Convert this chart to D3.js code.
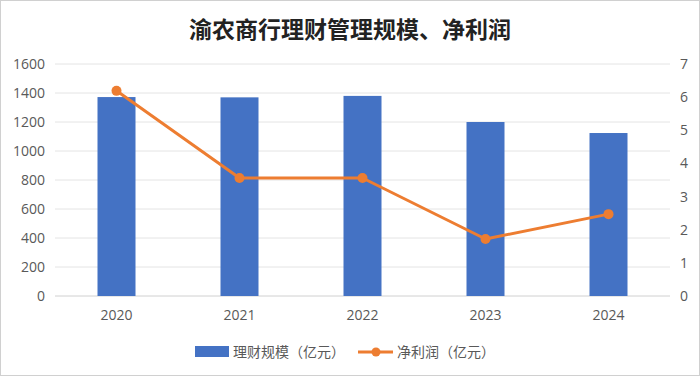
<!DOCTYPE html>
<html>
<head>
<meta charset="utf-8">
<script src="https://cdn.jsdelivr.net/npm/d3@7"></script>
<style>
  body { margin: 0; background: #fff; }
  svg { display: block; }
</style>
</head>
<body>
<div id="chart"></div>
<script>
// data
const years = ["2020", "2021", "2022", "2023", "2024"];
const scale = [1372, 1370, 1380, 1200, 1124];      // 理财规模（亿元）
const profit = [6.19, 3.56, 3.56, 1.72, 2.47];      // 净利润（亿元）
const leftTicks = [0, 200, 400, 600, 800, 1000, 1200, 1400, 1600];
const rightTicks = [0, 1, 2, 3, 4, 5, 6, 7];

const width = 700, height = 376;
const svg = d3.select("#chart")
    .append("svg")
    .attr("width", width)
    .attr("height", height);

// light frame
svg.append("rect")
    .attr("x", 0.5).attr("y", 0.5)
    .attr("width", width - 1).attr("height", height - 1)
    .style("fill", "#fff")
    .style("stroke", "#d0d0d0");

const plotL = 55, plotR = 670, plotT = 64, plotB = 296;

const x = d3.scaleBand().domain(years).range([plotL, plotR]);
const yL = d3.scaleLinear().domain([0, 1600]).range([plotB, plotT]);
const yR = d3.scaleLinear().domain([0, 7]).range([plotB, plotT]);

// title
svg.append("text")
    .text("渝农商行理财管理规模、净利润")
    .attr("x", 350).attr("y", 38)
    .attr("text-anchor", "middle")
    .style("font-family", "'Noto Sans CJK SC'")
    .style("font-weight", "bold")
    .style("font-size", "23px")
    .style("fill", "#222");

// gridlines
svg.append("g").selectAll("line")
    .data(leftTicks)
    .enter()
    .append("line")
    .attr("x1", plotL).attr("x2", plotR)
    .attr("y1", (d) => yL(d)).attr("y2", (d) => yL(d))
    .style("stroke", (d) => d === 0 ? "#d0d0d0" : "#e4e4e4")
    .style("stroke-width", 1);

// left axis
const axL = svg.append("g")
    .attr("transform", "translate(" + (plotL - 10) + ",0)")
    .call(d3.axisLeft(yL).tickValues(leftTicks).tickFormat(d3.format("d")).tickSize(0).tickPadding(0));
axL.select(".domain").remove();

// right axis
const axR = svg.append("g")
    .attr("transform", "translate(" + (plotR + 10) + ",0)")
    .call(d3.axisRight(yR).tickValues(rightTicks).tickFormat(d3.format("d")).tickSize(0).tickPadding(0));
axR.select(".domain").remove();

// x axis
const axX = svg.append("g")
    .attr("transform", "translate(0," + plotB + ")")
    .call(d3.axisBottom(x).tickSize(0).tickPadding(14));
axX.select(".domain").remove();

svg.selectAll(".tick text")
    .style("font-family", "'Open Sans', 'Noto Sans', sans-serif")
    .style("font-size", "14px")
    .style("fill", "#595959");

// bars
const barW = 38;
svg.append("g").selectAll("rect")
    .data(scale)
    .enter()
    .append("rect")
    .attr("x", (d, i) => x(years[i]) + x.bandwidth() / 2 - barW / 2)
    .attr("y", (d) => yL(d))
    .attr("width", barW)
    .attr("height", (d) => plotB - yL(d))
    .style("fill", "#4472C4");

// profit line
const line = d3.line()
    .x((d, i) => x(years[i]) + x.bandwidth() / 2)
    .y((d) => yR(d));
svg.append("path")
    .datum(profit)
    .attr("d", line)
    .style("fill", "none")
    .style("stroke", "#ED7D31")
    .style("stroke-width", 3)
    .style("stroke-linejoin", "round");
svg.append("g").selectAll("circle")
    .data(profit)
    .enter()
    .append("circle")
    .attr("cx", (d, i) => x(years[i]) + x.bandwidth() / 2)
    .attr("cy", (d) => yR(d))
    .attr("r", 5)
    .style("fill", "#ED7D31");

// legend
const legend = svg.append("g");
legend.append("rect")
    .attr("x", 195).attr("y", 346)
    .attr("width", 34).attr("height", 11)
    .style("fill", "#4472C4");
legend.append("text")
    .text("理财规模（亿元）")
    .attr("x", 233).attr("y", 357);
legend.append("line")
    .attr("x1", 358).attr("x2", 393)
    .attr("y1", 352).attr("y2", 352)
    .style("stroke", "#ED7D31")
    .style("stroke-width", 3);
legend.append("circle")
    .attr("cx", 376).attr("cy", 352).attr("r", 4.5)
    .style("fill", "#ED7D31");
legend.append("text")
    .text("净利润（亿元）")
    .attr("x", 397).attr("y", 357);
legend.selectAll("text")
    .style("font-family", "'Noto Sans CJK SC'")
    .style("font-size", "14px")
    .style("fill", "#595959");
</script>
</body>
</html>
